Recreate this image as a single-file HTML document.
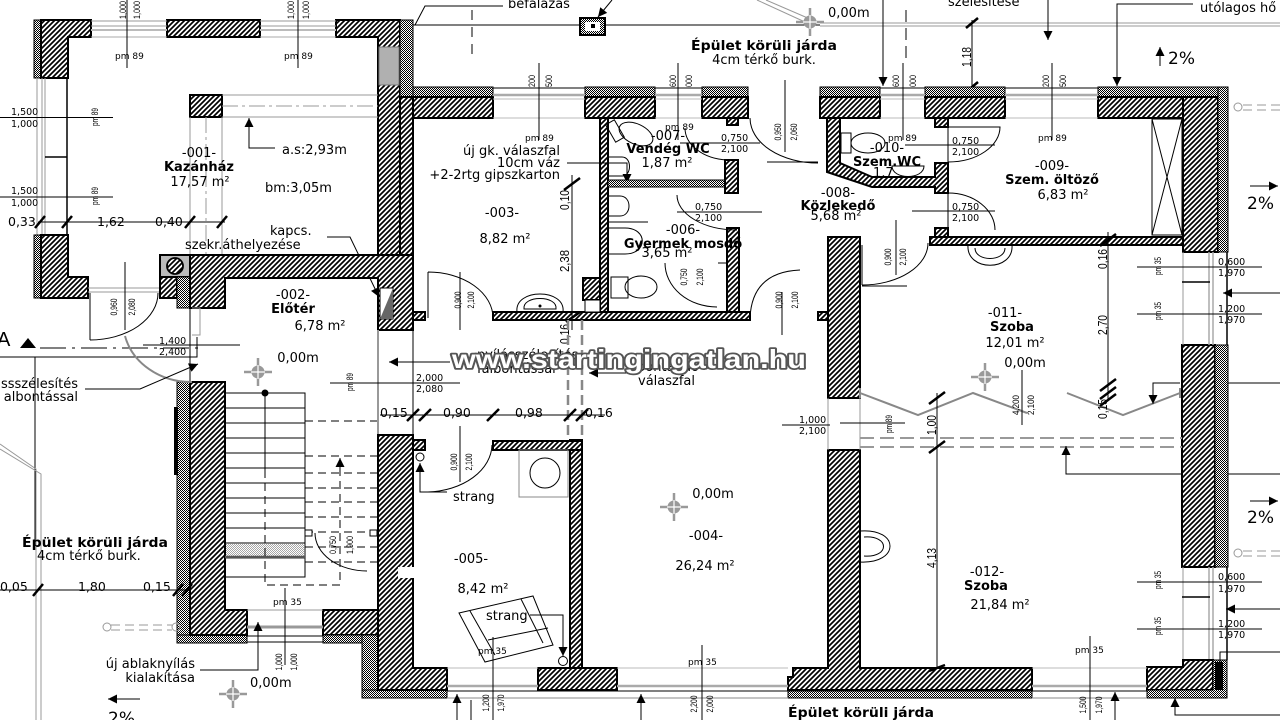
<!DOCTYPE html>
<html><head><meta charset="utf-8">
<style>
html,body{margin:0;padding:0;background:#fff;width:1280px;height:720px;overflow:hidden}
svg{display:block;font-family:"DejaVu Sans","Liberation Sans",sans-serif}
.w{fill:url(#h);stroke:#000;stroke-width:2}
.i{fill:url(#d);stroke:#000;stroke-width:1}
.t{font-size:13px}
.b{font-size:13px;font-weight:bold}
.s{font-size:9px}
.m{font-size:9.5px}
.d{font-size:12.5px}
.v{font-family:"Liberation Sans",sans-serif;font-size:9px}
.vd{font-family:"Liberation Sans",sans-serif;font-size:12.5px}
.g{stroke:#999;fill:none;stroke-width:1}
.k{stroke:#000;fill:none;stroke-width:1}
.tk{stroke:#000;stroke-width:2.5;fill:none}
.p{font-size:17px}
</style></head><body>
<svg width="1280" height="720" viewBox="0 0 1280 720" xmlns="http://www.w3.org/2000/svg">
<defs>
<pattern id="h" width="5" height="5" patternUnits="userSpaceOnUse"><rect width="5" height="5" fill="#fff"/><path d="M-1,1 l2,-2 M0,5 l5,-5 M4,6 l2,-2" stroke="#000" stroke-width="1.7"/></pattern>
<pattern id="d" width="2" height="2" patternUnits="userSpaceOnUse"><rect width="2" height="2" fill="#fff"/><rect width="1" height="1" fill="#000"/><rect x="1" y="1" width="1" height="1" fill="#000"/></pattern>
<marker id="a" viewBox="0 0 10 10" refX="10" refY="5" markerWidth="11" markerHeight="9" orient="auto" markerUnits="userSpaceOnUse"><path d="M0,0 L10,5 L0,10 Z" fill="#000"/></marker>
<g id="ch"><path d="M-14,0 H14 M0,-14 V14" stroke="#999" stroke-width="2.5"/><circle r="6.5" fill="#999"/><path d="M-7,0 H7 M0,-7 V7" stroke="#fff" stroke-width="1.2"/></g>
</defs>

<!-- ===== top outside ===== -->
<path d="M413,25 H820" class="k"/>
<path d="M820,23 H1280 M820,26 H1280" class="g"/>
<text x="508" y="8" class="t">befalazás</text>
<path d="M503,6 H425 L415,25" class="k"/>
<rect x="580" y="18" width="25" height="17" fill="url(#d)" stroke="#000" stroke-width="2"/>
<rect x="585" y="22" width="15" height="9" fill="#fff"/>
<rect x="591" y="24" width="4" height="4" fill="#000"/>
<path d="M612,0 L598,17" class="k" marker-end="url(#a)"/>
<path d="M472,10 V56" stroke="#000" stroke-dasharray="10,7"/>
<path d="M757,0 L805,22 M766,0 L810,19" class="g" stroke-width="1.5"/>
<use href="#ch" x="810" y="22"/>
<text x="828" y="17" class="t">0,00m</text>
<text x="764" y="50" class="b" text-anchor="middle" textLength="146" lengthAdjust="spacingAndGlyphs">Épület körüli járda</text>
<text x="764" y="64" class="t" text-anchor="middle">4cm térkő burk.</text>
<text x="948" y="6" class="t">szélesítése</text>
<text x="1200" y="12" class="t">utólagos hő</text>
<path d="M883,0 V86" class="k" marker-end="url(#a)"/>
<path d="M1048,0 V40" class="k" marker-end="url(#a)"/>
<path d="M1193,4 H1117 V86" class="k" marker-end="url(#a)"/>
<path d="M906,10 V60" stroke="#000" stroke-dasharray="12,6"/>
<path d="M972,20 V118" class="k"/>
<path d="M966,28 L978,18 M966,92 L978,82" class="tk"/>
<text transform="translate(971,57) rotate(-90)" class="vd" text-anchor="middle" textLength="20" lengthAdjust="spacingAndGlyphs">1,18</text>
<text transform="translate(971,100) rotate(-90)" class="vd" text-anchor="middle" textLength="20" lengthAdjust="spacingAndGlyphs">0,15</text>
<text x="1168" y="64" class="p">2%</text>
<path d="M1160,66 V47" class="k" marker-end="url(#a)"/>
<text x="1247" y="209" class="p">2%</text>
<path d="M1250,186 H1278" class="k" marker-end="url(#a)"/>
<text x="1247" y="523" class="p">2%</text>
<path d="M1250,501 H1278" class="k" marker-end="url(#a)"/>

<!-- ===== Kazánház ===== -->
<rect class="i" x="34" y="20" width="7" height="58"/>
<polygon class="w" points="41,20 91,20 91,37 68,37 68,78 41,78"/>
<rect class="w" x="167" y="20" width="93" height="17"/>
<polygon class="w" points="336,20 400,20 400,255 378,255 378,37 336,37"/>
<rect x="379" y="47" width="20" height="38" fill="#b0b0b0" stroke="#777"/>
<rect class="i" x="400" y="20" width="13" height="77"/>
<path d="M91,21 H167 M91,26 H167 M260,21 H336 M260,26 H336" class="g"/>
<path d="M91,30 H167 M260,30 H336" stroke="#bbb" stroke-width="2"/>
<path d="M91,37 H167 M260,37 H336" stroke="#aaa"/>
<path d="M37,78 V235 M42,78 V235 M45,78 V235" class="g"/>
<path d="M67,78 V235 M45,157 H67" stroke="#000" stroke-width="1.5"/>
<rect class="i" x="34" y="235" width="7" height="63"/>
<polygon class="w" points="41,235 68,235 68,277 88,277 88,298 41,298"/>
<path d="M88,288 H160 M88,292 H160" class="g"/>
<path d="M90,293 V340" class="k"/>
<path d="M90,340 A68,47 0 0 0 158,293" class="k"/>
<rect class="w" x="190" y="95" width="32" height="22"/>
<path d="M222,95 H378 M222,117 H378 M190,117 V255 M222,117 V255" class="g"/>
<path d="M222,106 H378 M206,117 V255" class="g" stroke-dasharray="16,4,3,4"/>
<path d="M127,0 V68 M298,0 V68" class="k"/>
<text transform="translate(126,10) rotate(-90)" class="v" text-anchor="middle" textLength="18" lengthAdjust="spacingAndGlyphs">1,000</text>
<text transform="translate(140,10) rotate(-90)" class="v" text-anchor="middle" textLength="18" lengthAdjust="spacingAndGlyphs">1,000</text>
<text transform="translate(294,10) rotate(-90)" class="v" text-anchor="middle" textLength="18" lengthAdjust="spacingAndGlyphs">1,000</text>
<text transform="translate(309,10) rotate(-90)" class="v" text-anchor="middle" textLength="18" lengthAdjust="spacingAndGlyphs">1,000</text>
<text x="115" y="59" class="s">pm 89</text>
<text x="284" y="59" class="s">pm 89</text>
<path d="M0,117.5 H113 M0,197 H113" class="k"/>
<text x="11" y="115" class="m">1,500</text><text x="11" y="127" class="m">1,000</text>
<text x="11" y="194" class="m">1,500</text><text x="11" y="206" class="m">1,000</text>
<text transform="translate(98,117) rotate(-90)" class="v" text-anchor="middle" textLength="18" lengthAdjust="spacingAndGlyphs">pm 89</text>
<text transform="translate(98,196) rotate(-90)" class="v" text-anchor="middle" textLength="18" lengthAdjust="spacingAndGlyphs">pm 89</text>
<path d="M38,222 H225" class="k"/>
<path d="M35,228 L45,216 M62,228 L72,216 M185,228 L195,216 M217,228 L227,216" class="tk"/>
<text x="8" y="226" class="d">0,33</text>
<text x="97" y="226" class="d">1,62</text>
<text x="155" y="226" class="d">0,40</text>
<text x="199" y="157" class="t" text-anchor="middle">-001-</text>
<text x="199" y="171" class="b" text-anchor="middle">Kazánház</text>
<text x="200" y="186" class="t" text-anchor="middle">17,57 m²</text>
<path d="M275,148 H249 V118" class="k" marker-end="url(#a)"/>
<text x="282" y="154" class="t">a.s:2,93m</text>
<text x="265" y="192" class="t">bm:3,05m</text>
<text x="270" y="235" class="t">kapcs.</text>
<text x="185" y="249" class="t">szekr.áthelyezése</text>
<path d="M327,237 H350 L379,297" class="k" marker-end="url(#a)"/>
<path d="M125,262 V330" class="k"/>
<text transform="translate(117,307) rotate(-90)" class="v" text-anchor="middle" textLength="17" lengthAdjust="spacingAndGlyphs">0,960</text>
<text transform="translate(135,307) rotate(-90)" class="v" text-anchor="middle" textLength="17" lengthAdjust="spacingAndGlyphs">2,080</text>

<!-- ===== Előtér ===== -->
<rect x="160" y="255" width="30" height="22" fill="#bbb" stroke="#000" stroke-width="2"/>
<circle cx="175" cy="266" r="8" fill="url(#h)" stroke="#000" stroke-width="1.8"/>
<rect class="w" x="160" y="277" width="17" height="21"/>
<rect class="i" x="177" y="277" width="13" height="31"/>
<rect class="w" x="400" y="97" width="13" height="158"/>
<polygon class="w" points="190,255 413,255 413,330 378,330 378,278 225,278 225,308 190,308"/>
<rect x="380" y="288" width="13" height="31" fill="#fff" stroke="#000"/>
<polygon points="380,319 393,288 393,319" fill="#666"/>
<path d="M378,330 V435" stroke="#999" stroke-width="2"/>
<path d="M413,330 V435" class="k"/>
<rect class="i" x="177" y="382" width="13" height="261"/>
<rect class="i" x="177" y="635" width="70" height="8"/>
<polygon class="w" points="190,382 225,382 225,610 247,610 247,635 190,635"/>
<rect x="174" y="407" width="4" height="68" fill="#000"/>
<path d="M190,308 V382" class="k"/>
<path d="M192,308 H200 V335 H192" class="g"/>
<rect class="w" x="323" y="610" width="55" height="25"/>
<rect class="i" x="323" y="635" width="39" height="8"/>
<rect class="i" x="362" y="635" width="16" height="63"/>
<rect class="i" x="362" y="690" width="85" height="8"/>
<polygon class="w" points="378,435 413,435 413,668 447,668 447,690 378,690"/>
<rect x="398" y="567" width="16" height="11" fill="#fff"/>
<path d="M247,610 H323" class="g"/>
<path d="M247,627 H323" stroke="#999" stroke-width="3"/>
<path d="M247,636 H323 M247,642 H323" class="k"/>
<text x="293" y="299" class="t" text-anchor="middle">-002-</text>
<text x="293" y="313" class="b" text-anchor="middle">Előtér</text>
<text x="320" y="330" class="t" text-anchor="middle">6,78 m²</text>
<text x="298" y="362" class="t" text-anchor="middle">0,00m</text>
<use href="#ch" x="258" y="372"/>
<!-- stairs -->
<g class="k">
<rect x="225" y="393" width="80" height="184"/>
<path d="M225,408 H305 M225,423 H305 M225,438 H305 M225,453 H305 M225,468 H305 M225,483 H305 M225,498 H305 M225,513 H305 M225,528 H305 M225,543 H305 M225,558 H305"/>
</g>
<rect x="226" y="544" width="78" height="13" fill="url(#d)" opacity="0.35"/>
<path d="M225,557 H305" stroke="#555" stroke-width="2.5"/>
<circle cx="265" cy="393" r="3.5" fill="#000"/>
<path d="M265,393 V470" class="k"/>
<path d="M265,470 V585 H340 V462" class="k" stroke-dasharray="8,5"/>
<path d="M340,470 V458" class="k" marker-end="url(#a)"/>
<path d="M305,421 H377 M305,456 H377 M305,473 H377 M305,488 H377 M305,502 H377 M305,517 H377 M305,532 H377 M305,547 H377 M305,562 H377" class="k" stroke-dasharray="8,5" stroke-width="1.5"/>
<rect x="305" y="530" width="7" height="6" fill="#fff" stroke="#000"/>
<rect x="370" y="530" width="7" height="6" fill="#fff" stroke="#000"/>
<path d="M315,533 A52,38 0 0 0 367,571" class="k"/>
<text transform="translate(336,545) rotate(-90)" class="v" text-anchor="middle" textLength="18" lengthAdjust="spacingAndGlyphs">0,750</text>
<text transform="translate(353,545) rotate(-90)" class="v" text-anchor="middle" textLength="18" lengthAdjust="spacingAndGlyphs">1,900</text>
<path d="M285,588 V665" class="k"/>
<text x="273" y="605" class="s">pm 35</text>
<text transform="translate(282,662) rotate(-90)" class="v" text-anchor="middle" textLength="17" lengthAdjust="spacingAndGlyphs">1,000</text>
<text transform="translate(297,662) rotate(-90)" class="v" text-anchor="middle" textLength="17" lengthAdjust="spacingAndGlyphs">1,000</text>
<path d="M200,670 H258 V622" class="k" marker-end="url(#a)"/>
<text x="195" y="668" class="t" text-anchor="end">új ablaknyílás</text>
<text x="195" y="682" class="t" text-anchor="end">kialakítása</text>
<text x="250" y="687" class="t">0,00m</text>
<use href="#ch" x="233" y="694"/>
<path d="M140,699 H108" class="k" marker-end="url(#a)"/>
<text x="108" y="724" class="p">2%</text>

<!-- ===== left outside ===== -->
<text x="-3" y="346" style="font-size:20px;font-family:'Liberation Sans',sans-serif">A</text>
<polygon points="20,348 28,338 36,348" fill="#000"/>
<path d="M40,348 H200" class="k" stroke-dasharray="26,6,3,6"/>
<path d="M0,357 H197 V337 M143,345 H240" class="k"/>
<text x="159" y="344" class="m">1,400</text>
<text x="159" y="355" class="m">2,400</text>
<path d="M125,336 A68,60 0 0 0 192,382" stroke="#888" stroke-width="2" fill="none"/>
<path d="M35,357 V545" class="k"/>
<text x="78" y="388" class="t" text-anchor="end">ssszélesítés</text>
<text x="78" y="401" class="t" text-anchor="end">albontással</text>
<path d="M85,389 H140 L198,364" class="k" marker-end="url(#a)"/>
<path d="M0,444 L36,469 V720 M0,449 L41,474 V720" class="g"/>
<text x="22" y="547" class="b" textLength="146" lengthAdjust="spacingAndGlyphs">Épület körüli járda</text>
<text x="37" y="560" class="t">4cm térkő burk.</text>
<path d="M0,590 H190" class="k"/>
<path d="M33,596 L43,584 M173,596 L183,584 M182,596 L192,584" class="tk"/>
<text x="0" y="591" class="d">0,05</text>
<text x="78" y="591" class="d">1,80</text>
<text x="143" y="591" class="d">0,15</text>
<path d="M111,625 H172 M111,630 H172" stroke="#999" stroke-dasharray="9,5"/>
<circle cx="107" cy="627" r="4" class="g"/>
<circle cx="176" cy="627" r="4" class="g"/>

<!-- ===== main building top wall ===== -->
<g>
<rect class="i" x="413" y="87" width="80" height="10"/>
<rect class="i" x="585" y="87" width="70" height="10"/>
<rect class="i" x="702" y="87" width="46" height="10"/>
<rect class="i" x="820" y="87" width="60" height="10"/>
<rect class="i" x="925" y="87" width="80" height="10"/>
<rect class="i" x="1098" y="87" width="130" height="10"/>
<rect class="w" x="413" y="97" width="80" height="21"/>
<rect class="w" x="585" y="97" width="70" height="21"/>
<rect class="w" x="702" y="97" width="46" height="21"/>
<rect class="w" x="820" y="97" width="60" height="21"/>
<rect class="w" x="925" y="97" width="80" height="21"/>
<rect class="w" x="1098" y="97" width="85" height="21"/>
<path d="M493,88 H585 M655,88 H702 M880,88 H925 M1005,88 H1098" class="k"/>
<path d="M493,95 H585 M655,95 H702 M880,95 H925 M1005,95 H1098" stroke="#aaa" stroke-width="2.5"/>
<path d="M493,99 H585 M655,99 H702 M880,99 H925 M1005,99 H1098 M493,118 H585 M655,118 H702 M880,118 H925 M1005,118 H1098" stroke="#bbb"/>
</g>
<path d="M539,63 V140 M678,63 V140 M903,63 V140 M1052,63 V140" class="k"/>
<text transform="translate(535,81) rotate(-90)" class="v" text-anchor="middle" textLength="12" lengthAdjust="spacingAndGlyphs">200</text>
<text transform="translate(552,81) rotate(-90)" class="v" text-anchor="middle" textLength="12" lengthAdjust="spacingAndGlyphs">500</text>
<text transform="translate(676,81) rotate(-90)" class="v" text-anchor="middle" textLength="12" lengthAdjust="spacingAndGlyphs">600</text>
<text transform="translate(692,81) rotate(-90)" class="v" text-anchor="middle" textLength="12" lengthAdjust="spacingAndGlyphs">000</text>
<text transform="translate(899,81) rotate(-90)" class="v" text-anchor="middle" textLength="12" lengthAdjust="spacingAndGlyphs">600</text>
<text transform="translate(916,81) rotate(-90)" class="v" text-anchor="middle" textLength="12" lengthAdjust="spacingAndGlyphs">000</text>
<text transform="translate(1049,81) rotate(-90)" class="v" text-anchor="middle" textLength="12" lengthAdjust="spacingAndGlyphs">200</text>
<text transform="translate(1066,81) rotate(-90)" class="v" text-anchor="middle" textLength="12" lengthAdjust="spacingAndGlyphs">500</text>

<!-- right wall -->
<rect class="w" x="1183" y="97" width="35" height="155"/>
<rect class="i" x="1218" y="87" width="10" height="165"/>
<rect class="w" x="1182" y="345" width="33" height="222"/>
<rect class="i" x="1215" y="345" width="13" height="222"/>
<path d="M1183,252 V345 M1183,567 V660" stroke="#999"/>
<path d="M1209,252 V345 M1213,252 V345 M1209,567 V660 M1213,567 V660" stroke="#aaa" stroke-width="1.5"/>
<path d="M1227,252 V345 M1227,567 V660 M1182,282 H1210 M1182,597 H1210" stroke="#000" stroke-width="1.5"/>
<polygon class="w" points="1183,660 1213,660 1213,690 1147,690 1147,667 1183,667"/>
<polygon class="i" points="1213,660 1227,660 1227,698 1147,698 1147,690 1213,690"/>
<rect x="1215" y="662" width="8" height="28" fill="#000"/>

<!-- bottom walls -->
<polygon class="w" points="788,677 793,677 793,668 828,668 828,450 860,450 860,668 1032,668 1032,690 788,690"/>
<rect class="i" x="788" y="690" width="244" height="8"/>
<rect class="w" x="828" y="237" width="32" height="161"/>
<path d="M828,398 V450 M860,398 V450" class="g"/>
<rect class="w" x="570" y="440" width="12" height="228"/>
<rect class="w" x="538" y="668" width="79" height="22"/>
<path d="M447,668 H538 M617,668 H788 M1032,668 H1147" stroke="#bbb"/>
<path d="M447,686 H538 M617,686 H788 M1032,686 H1147" stroke="#aaa" stroke-width="2.5"/>
<path d="M447,691 H1147" class="k"/>
<path d="M447,698 H788 M1032,698 H1147" stroke="#888"/>

<!-- ===== 003 ===== -->
<rect class="w" x="413" y="312" width="12" height="8"/>
<rect class="w" x="493" y="312" width="257" height="8"/>
<rect class="w" x="818" y="312" width="10" height="8"/>
<rect class="w" x="600" y="118" width="8" height="194"/>
<rect class="w" x="583" y="278" width="17" height="22"/>
<rect x="585" y="300" width="15" height="12" fill="#fff" stroke="#000"/>
<text x="525" y="141" class="s">pm 89</text>
<text x="560" y="155" class="t" text-anchor="end">új gk. válaszfal</text>
<text x="560" y="167" class="t" text-anchor="end">10cm váz</text>
<text x="560" y="179" class="t" text-anchor="end">+2-2rtg gipszkarton</text>
<path d="M567,163 H627 V183" class="k" marker-end="url(#a)"/>
<path d="M572,175 V330" class="k"/>
<path d="M564,190 L580,178 M566,322 L580,312" class="tk"/>
<text transform="translate(569,200) rotate(-90)" class="vd" text-anchor="middle" textLength="20" lengthAdjust="spacingAndGlyphs">0,10</text>
<text transform="translate(569,261) rotate(-90)" class="vd" text-anchor="middle" textLength="22" lengthAdjust="spacingAndGlyphs">2,38</text>
<text transform="translate(569,334) rotate(-90)" class="vd" text-anchor="middle" textLength="20" lengthAdjust="spacingAndGlyphs">0,16</text>
<text x="502" y="217" class="t" text-anchor="middle">-003-</text>
<text x="505" y="243" class="t" text-anchor="middle">8,82 m²</text>
<path d="M460,272 V330" class="k"/>
<text transform="translate(461,300) rotate(-90)" class="v" text-anchor="middle" textLength="17" lengthAdjust="spacingAndGlyphs">0,900</text>
<text transform="translate(474,300) rotate(-90)" class="v" text-anchor="middle" textLength="17" lengthAdjust="spacingAndGlyphs">2,100</text>
<path d="M428,272 V318 M428,272 A65,46 0 0 1 493,318" class="k"/>
<path d="M517,312 C514,288 566,288 563,312" class="k"/>
<path d="M524,309 C522,295 558,295 556,309 Z" class="k"/>
<circle cx="540" cy="306" r="1.5" fill="#000"/>

<!-- ===== 007 / 006 ===== -->
<rect class="i" x="608" y="180" width="117" height="7"/>
<rect class="w" x="725" y="160" width="13" height="33"/>
<rect class="w" x="727" y="228" width="12" height="84"/>
<rect class="w" x="727" y="118" width="11" height="7"/>
<g class="k">
<rect x="610" y="121" width="10" height="20" transform="rotate(-30 615 131)"/>
<ellipse cx="636" cy="134" rx="18" ry="10" transform="rotate(25 636 134)"/>
<path d="M609,157 H622 C632,157 632,176 622,176 H609"/>
<path d="M609,196 H620 C632,196 632,216 620,216 H609"/>
<path d="M609,222 H648"/>
<path d="M609,228 H625 C648,228 648,254 625,254 H609"/>
<path d="M611,277 H628 V298 H611 Z"/>
<ellipse cx="641" cy="287" rx="16" ry="11"/>
<path d="M718,263 H727"/>
</g>
<text x="665" y="130" class="s">pm 89</text>
<text x="668" y="140" class="t" text-anchor="middle">-007-</text>
<text x="668" y="153" class="b" text-anchor="middle">Vendég WC</text>
<text x="667" y="167" class="t" text-anchor="middle">1,87 m²</text>
<path d="M680,143 H760" class="k"/>
<text x="721" y="141" class="m">0,750</text>
<text x="721" y="152" class="m">2,100</text>
<path d="M685,128 A45,32 0 0 0 727,160" class="k"/>
<text x="683" y="234" class="t" text-anchor="middle">-006-</text>
<text x="683" y="248" class="b" text-anchor="middle">Gyermek mosdó</text>
<text x="667" y="257" class="t" text-anchor="middle">3,65 m²</text>
<path d="M677,212 H762" class="k"/>
<text x="695" y="210" class="m">0,750</text>
<text x="695" y="221" class="m">2,100</text>
<path d="M677,195 A60,35 0 0 0 737,230" class="k"/>
<path d="M665,263 A52,44 0 0 0 717,307" class="k"/>
<text transform="translate(687,277) rotate(-90)" class="v" text-anchor="middle" textLength="17" lengthAdjust="spacingAndGlyphs">0,750</text>
<text transform="translate(703,277) rotate(-90)" class="v" text-anchor="middle" textLength="17" lengthAdjust="spacingAndGlyphs">2,100</text>

<!-- ===== 008 ===== -->
<path d="M785,80 V152" class="k"/>
<text transform="translate(781,132) rotate(-90)" class="v" text-anchor="middle" textLength="17" lengthAdjust="spacingAndGlyphs">0,950</text>
<text transform="translate(797,132) rotate(-90)" class="v" text-anchor="middle" textLength="17" lengthAdjust="spacingAndGlyphs">2,060</text>
<path d="M750,118 A68,45 0 0 0 818,163 M767,162 H818" class="k"/>
<path d="M748,97 V118" class="k"/>
<text x="838" y="197" class="t" text-anchor="middle">-008-</text>
<text x="838" y="210" class="b" text-anchor="middle">Közlekedő</text>
<text x="836" y="220" class="t" text-anchor="middle">5,68 m²</text>
<path d="M782,292 V335" class="k"/>
<text transform="translate(782,300) rotate(-90)" class="v" text-anchor="middle" textLength="17" lengthAdjust="spacingAndGlyphs">0,900</text>
<text transform="translate(798,300) rotate(-90)" class="v" text-anchor="middle" textLength="17" lengthAdjust="spacingAndGlyphs">2,100</text>
<path d="M750,318 Q752,272 800,270" class="k"/>

<!-- ===== 010 / 009 ===== -->
<polygon class="w" points="827,118 840,118 840,163 872,177 935,177 935,163 948,163 948,193 935,193 935,187 872,187 827,172"/>
<rect class="w" x="935" y="118" width="13" height="9"/>
<rect class="w" x="935" y="228" width="13" height="9"/>
<rect class="w" x="930" y="237" width="253" height="8"/>
<path d="M948,127 V163 M948,193 V228" class="k"/>
<g class="k">
<rect x="841" y="133" width="10" height="20"/>
<ellipse cx="868" cy="143" rx="17" ry="10"/>
<path d="M892,166 C892,180 924,180 924,166 Z"/>
</g>
<text x="888" y="141" class="s">pm 89</text>
<text x="887" y="152" class="t" text-anchor="middle">-010-</text>
<text x="887" y="166" class="b" text-anchor="middle">Szem.WC</text>
<text x="873" y="177" class="t">1,7</text>
<path d="M905,145 H995" class="k"/>
<text x="952" y="144" class="m">0,750</text>
<text x="952" y="155" class="m">2,100</text>
<path d="M948,127 H1000 A52,35 0 0 1 948,162" class="k"/>
<path d="M912,211 H995" class="k"/>
<text x="952" y="210" class="m">0,750</text>
<text x="952" y="221" class="m">2,100</text>
<path d="M948,193 A47,37 0 0 1 995,230" class="k"/>
<text x="1038" y="141" class="s">pm 89</text>
<text x="1052" y="170" class="t" text-anchor="middle">-009-</text>
<text x="1052" y="184" class="b" text-anchor="middle">Szem. öltöző</text>
<text x="1063" y="199" class="t" text-anchor="middle">6,83 m²</text>
<rect x="1152" y="119" width="30" height="116" class="k"/>
<path d="M1152,119 L1182,235 M1182,119 L1152,235" class="k"/>

<!-- ===== 011 ===== -->
<path d="M862,245 V285 M862,285 A66,42 0 0 0 928,243 M862,286 H907" class="k"/>
<path d="M896,220 V275" class="k"/>
<text transform="translate(891,257) rotate(-90)" class="v" text-anchor="middle" textLength="17" lengthAdjust="spacingAndGlyphs">0,900</text>
<text transform="translate(906,257) rotate(-90)" class="v" text-anchor="middle" textLength="17" lengthAdjust="spacingAndGlyphs">2,100</text>
<path d="M968,245 C966,272 1014,272 1012,245" class="k"/>
<path d="M975,248 C975,262 1005,262 1005,248" class="k"/>
<text x="1005" y="317" class="t" text-anchor="middle">-011-</text>
<text x="1012" y="331" class="b" text-anchor="middle">Szoba</text>
<text x="1015" y="347" class="t" text-anchor="middle">12,01 m²</text>
<text x="1025" y="367" class="t" text-anchor="middle">0,00m</text>
<use href="#ch" x="985" y="377"/>
<path d="M860,388 V398 M860,393 L918,415 L973,393 L1027,413 M1067,393 L1123,415 L1180,393 M1180,388 V398" stroke="#888" stroke-width="2" fill="none"/>
<path d="M860,438 H1182 M860,447 H1182" stroke="#999" stroke-width="2" stroke-dasharray="14,6"/>
<path d="M1108,232 V400" class="k"/>
<path d="M1100,246 L1116,234 M1100,391 L1116,379 M1100,399 L1116,387 M1100,406 L1116,394" class="tk"/>
<text transform="translate(1107,259) rotate(-90)" class="vd" text-anchor="middle" textLength="20" lengthAdjust="spacingAndGlyphs">0,16</text>
<text transform="translate(1107,325) rotate(-90)" class="vd" text-anchor="middle" textLength="20" lengthAdjust="spacingAndGlyphs">2,70</text>
<text transform="translate(1107,409) rotate(-90)" class="vd" text-anchor="middle" textLength="20" lengthAdjust="spacingAndGlyphs">0,15</text>
<path d="M1137,267 H1262 M1137,314 H1262 M1137,582 H1262 M1137,629 H1262" class="k"/>
<text transform="translate(1161,266) rotate(-90)" class="v" text-anchor="middle" textLength="18" lengthAdjust="spacingAndGlyphs">pm 35</text>
<text transform="translate(1161,311) rotate(-90)" class="v" text-anchor="middle" textLength="18" lengthAdjust="spacingAndGlyphs">pm 35</text>
<text transform="translate(1161,580) rotate(-90)" class="v" text-anchor="middle" textLength="18" lengthAdjust="spacingAndGlyphs">pm 35</text>
<text transform="translate(1161,626) rotate(-90)" class="v" text-anchor="middle" textLength="18" lengthAdjust="spacingAndGlyphs">pm 35</text>
<text x="1218" y="265" class="m">0,600</text><text x="1218" y="276" class="m">1,970</text>
<text x="1218" y="312" class="m">1,200</text><text x="1218" y="323" class="m">1,970</text>
<text x="1218" y="580" class="m">0,600</text><text x="1218" y="592" class="m">1,970</text>
<text x="1218" y="627" class="m">1,200</text><text x="1218" y="638" class="m">1,970</text>
<path d="M1022,370 V425" class="k"/>
<text transform="translate(1019,405) rotate(-90)" class="v" text-anchor="middle" textLength="20" lengthAdjust="spacingAndGlyphs">4,200</text>
<text transform="translate(1034,405) rotate(-90)" class="v" text-anchor="middle" textLength="20" lengthAdjust="spacingAndGlyphs">2,100</text>
<path d="M840,423 H905" class="k"/>
<text transform="translate(892,424) rotate(-90)" class="v" text-anchor="middle" textLength="18" lengthAdjust="spacingAndGlyphs">pm 89</text>
<path d="M937,393 V668" class="k"/>
<path d="M929,404 L945,392 M929,453 L945,441 M929,671 L945,665" class="tk"/>
<text transform="translate(936,425) rotate(-90)" class="vd" text-anchor="middle" textLength="20" lengthAdjust="spacingAndGlyphs">1,00</text>
<text transform="translate(936,558) rotate(-90)" class="vd" text-anchor="middle" textLength="20" lengthAdjust="spacingAndGlyphs">4,13</text>
<path d="M1280,383 H1228 M1180,383 H1153 V404" class="k"/>
<path d="M1153,395 V404" class="k" marker-end="url(#a)"/>
<path d="M1280,474 H1228 M1182,474 H1066 V446" class="k" marker-end="url(#a)"/>
<path d="M1280,293 H1223" class="k" marker-end="url(#a)"/>
<path d="M1280,609 H1226" class="k" marker-end="url(#a)"/>
<path d="M1243,105 H1280 M1243,110 H1280 M1243,551 H1280 M1243,556 H1280" stroke="#999" stroke-dasharray="9,5"/>
<circle cx="1238" cy="107" r="4" class="g"/>
<circle cx="1238" cy="553" r="4" class="g"/>
<path d="M1280,652 H1220 V662" class="k"/>

<!-- ===== 012 ===== -->
<path d="M860,531 C900,528 900,564 860,562" class="k"/>
<path d="M864,537 C890,535 890,558 864,556" class="k"/>
<text x="987" y="576" class="t" text-anchor="middle">-012-</text>
<text x="986" y="590" class="b" text-anchor="middle">Szoba</text>
<text x="1000" y="609" class="t" text-anchor="middle">21,84 m²</text>
<path d="M1090,636 V720" class="k"/>
<text x="1075" y="653" class="s">pm 35</text>
<text transform="translate(1086,705) rotate(-90)" class="v" text-anchor="middle" textLength="17" lengthAdjust="spacingAndGlyphs">1,500</text>
<text transform="translate(1102,705) rotate(-90)" class="v" text-anchor="middle" textLength="17" lengthAdjust="spacingAndGlyphs">1,970</text>
<path d="M1115,720 V692" class="k" marker-end="url(#a)"/>
<path d="M1280,715 H1175 V698" class="k" marker-end="url(#a)"/>
<text x="788" y="717" class="b" textLength="146" lengthAdjust="spacingAndGlyphs">Épület körüli járda</text>

<!-- ===== 004 ===== -->
<path d="M782,425 H830" class="k"/>
<text x="799" y="423" class="m">1,000</text>
<text x="799" y="434" class="m">2,100</text>
<text x="713" y="498" class="t" text-anchor="middle">0,00m</text>
<use href="#ch" x="674" y="507"/>
<text x="706" y="540" class="t" text-anchor="middle">-004-</text>
<text x="705" y="570" class="t" text-anchor="middle">26,24 m²</text>
<path d="M702,645 V720" class="k"/>
<text x="688" y="665" class="s">pm 35</text>
<text transform="translate(697,704) rotate(-90)" class="v" text-anchor="middle" textLength="17" lengthAdjust="spacingAndGlyphs">2,200</text>
<text transform="translate(713,704) rotate(-90)" class="v" text-anchor="middle" textLength="17" lengthAdjust="spacingAndGlyphs">2,000</text>
<path d="M641,720 V694" class="k" marker-end="url(#a)"/>
<path d="M568,320 V440 M582,320 V440" stroke="#888" stroke-width="2.5" stroke-dasharray="10,5"/>

<!-- ===== 005 ===== -->
<rect class="w" x="413" y="440" width="12" height="10"/>
<rect class="w" x="493" y="441" width="89" height="9"/>
<path d="M380,383 H460" class="k"/>
<text x="416" y="381" class="m">2,000</text>
<text x="416" y="392" class="m">2,080</text>
<path d="M330,383 H380" class="k"/>
<text transform="translate(353,382) rotate(-90)" class="v" text-anchor="middle" textLength="18" lengthAdjust="spacingAndGlyphs">pm 89</text>
<path d="M450,362 H389" class="k" marker-end="url(#a)"/>
<path d="M380,415 H605" class="k"/>
<path d="M407,421 L419,409 M419,421 L431,409 M487,421 L499,409 M564,421 L576,409 M576,421 L588,409" class="tk"/>
<text x="380" y="417" class="d">0,15</text>
<text x="443" y="417" class="d">0,90</text>
<text x="515" y="417" class="d">0,98</text>
<text x="585" y="417" class="d">0,16</text>
<path d="M460,426 V482" class="k"/>
<text transform="translate(457,462) rotate(-90)" class="v" text-anchor="middle" textLength="17" lengthAdjust="spacingAndGlyphs">0,900</text>
<text transform="translate(472,462) rotate(-90)" class="v" text-anchor="middle" textLength="17" lengthAdjust="spacingAndGlyphs">2,100</text>
<path d="M492,445 A67,48 0 0 1 428,492" class="k"/>
<circle cx="420" cy="457" r="4" class="k"/>
<path d="M447,492 H420 V463" class="k" marker-end="url(#a)"/>
<text x="453" y="501" class="t">strang</text>
<rect x="519" y="450" width="49" height="47" stroke="#888" fill="none"/>
<circle cx="545" cy="473" r="15" class="k" stroke-width="1.5"/>
<text x="471" y="563" class="t" text-anchor="middle">-005-</text>
<text x="483" y="593" class="t" text-anchor="middle">8,42 m²</text>
<polygon points="459,613 533,596 553,645 485,662" class="k"/>
<path d="M470,611 L495,655 M521,599 L543,643 M488,640 L548,628" class="k"/>
<text x="486" y="620" class="t">strang</text>
<path d="M530,615 H563 V656" class="k" marker-end="url(#a)"/>
<circle cx="563" cy="661" r="4.5" fill="#fff" stroke="#000"/>
<path d="M493,637 V720" class="k"/>
<text x="478" y="654" class="s">pm 35</text>
<text transform="translate(489,703) rotate(-90)" class="v" text-anchor="middle" textLength="17" lengthAdjust="spacingAndGlyphs">1,200</text>
<text transform="translate(504,703) rotate(-90)" class="v" text-anchor="middle" textLength="17" lengthAdjust="spacingAndGlyphs">1,970</text>
<path d="M457,720 V694" class="k" marker-end="url(#a)"/>
<path d="M471,700 V720" class="k"/>

<!-- ===== labels behind watermark ===== -->
<text x="477" y="359" class="t">nyílásszélesítés</text>
<text x="477" y="373" class="t">falbontással</text>
<text x="637" y="371" class="t">bontandó</text>
<text x="638" y="385" class="t">válaszfal</text>
<path d="M637,373 H589" class="k" marker-end="url(#a)"/>
<text x="452" y="368" textLength="354" lengthAdjust="spacingAndGlyphs" style="font-family:'Liberation Sans',sans-serif;font-size:26px;font-weight:bold;fill:#fff;stroke:#555;stroke-width:3.5;paint-order:stroke;stroke-linejoin:round">www.startingingatlan.hu</text>
</svg>
</body></html>
